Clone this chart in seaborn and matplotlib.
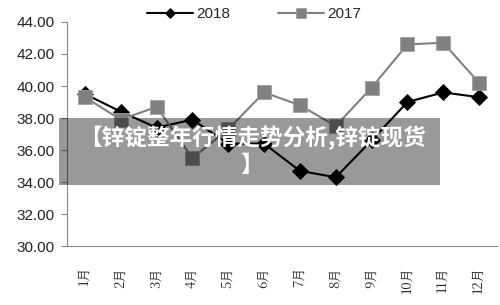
import numpy as np
import pandas as pd
import matplotlib
matplotlib.use("Agg")
import matplotlib.pyplot as plt
from matplotlib.ticker import FixedLocator
import seaborn as sb

# 数据
months = ['1月', '2月', '3月', '4月', '5月', '6月', '7月', '8月', '9月', '10月', '11月', '12月']
v2018 = [39.5, 38.4, 37.4, 37.9, 36.4, 36.4, 34.7, 34.3, 36.6, 39.0, 39.6, 39.3]
v2017 = [39.3, 37.9, 38.7, 35.5, 37.3, 39.6, 38.8, 37.5, 39.9, 42.6, 42.7, 40.2]
y_ticks = [30, 32, 34, 36, 38, 40, 42, 44]
overlay_text = '【锌锭整年行情走势分析,锌锭现货\n】'

df = pd.DataFrame({'month': months * 2,
                   'price': v2018 + v2017,
                   'year': ['2018'] * 12 + ['2017'] * 12})

sb.set_style('white')
plt.rcParams['font.family'] = ['Liberation Sans', 'Noto Sans CJK SC', 'DejaVu Sans']

fig = plt.figure(figsize=(5, 3.05), dpi=100)
ax = fig.add_axes([0.134, 0.193, 0.86, 0.735])

sb.lineplot(data=df, x='month', y='price', hue='year', style='year',
            hue_order=['2018', '2017'], style_order=['2018', '2017'],
            palette={'2018': '#000000', '2017': '#808080'},
            markers={'2018': 'D', '2017': 's'}, dashes=False,
            markersize=8, linewidth=1.5, markeredgewidth=0.6, ax=ax)
for ln in ax.lines:
    if ln.get_marker() == 's':
        ln.set_markersize(9.5)
        ln.set_markeredgecolor('#a0a0a0')
    elif ln.get_marker() == 'D':
        ln.set_markeredgecolor('#000000')

ax.set_xlim(-0.5, 11.5)
ax.set_ylim(30, 44)
ax.set_yticks(y_ticks)
ax.set_yticklabels(['%.2f' % t for t in y_ticks], fontsize=11, color='#222222')
ax.set_xticks(range(12))
ax.set_xticklabels(months, rotation=90, fontsize=9.5, family=['Noto Serif CJK SC', 'Noto Sans CJK SC'],
                   color='#222222')
ax.xaxis.set_minor_locator(FixedLocator(np.arange(-0.5, 12, 1)))
ax.tick_params(axis='x', which='major', length=0, pad=15)
ax.tick_params(axis='x', which='minor', length=4, color='#888888', width=0.8)
ax.tick_params(axis='y', length=4, color='#888888', width=0.8, left=True, pad=5)
ax.set_xlabel('')
ax.set_ylabel('')
for s in ['top', 'right']:
    ax.spines[s].set_visible(False)
for s in ['left', 'bottom']:
    ax.spines[s].set_color('#888888')
    ax.spines[s].set_linewidth(0.8)

leg = ax.legend(loc='center left', bbox_to_anchor=(147 / 500, 1 - 14 / 305),
                bbox_transform=fig.transFigure, ncol=2, frameon=False,
                fontsize=11, handlelength=3.0, handletextpad=0.25, columnspacing=3.1,
                borderpad=0, borderaxespad=0)
for h in leg.legend_handles:
    if h.get_marker() == 's':
        h.set_markersize(7)
    else:
        h.set_markersize(5.5)

# 半透明标题遮罩
fig.patches.append(plt.Rectangle((59 / 500, 1 - 185 / 305), 381 / 500, 67 / 305,
                                 transform=fig.transFigure, facecolor='#000000',
                                 alpha=0.4, edgecolor='none', zorder=5))
fig.text(252 / 500, 1 - 151 / 305, overlay_text, ha='center', va='center',
         fontsize=16.3, fontweight='black', color='white', linespacing=1.2,
         family=['Noto Sans CJK SC', 'DejaVu Sans'], zorder=6)

fig.savefig('out.png', dpi=100)
